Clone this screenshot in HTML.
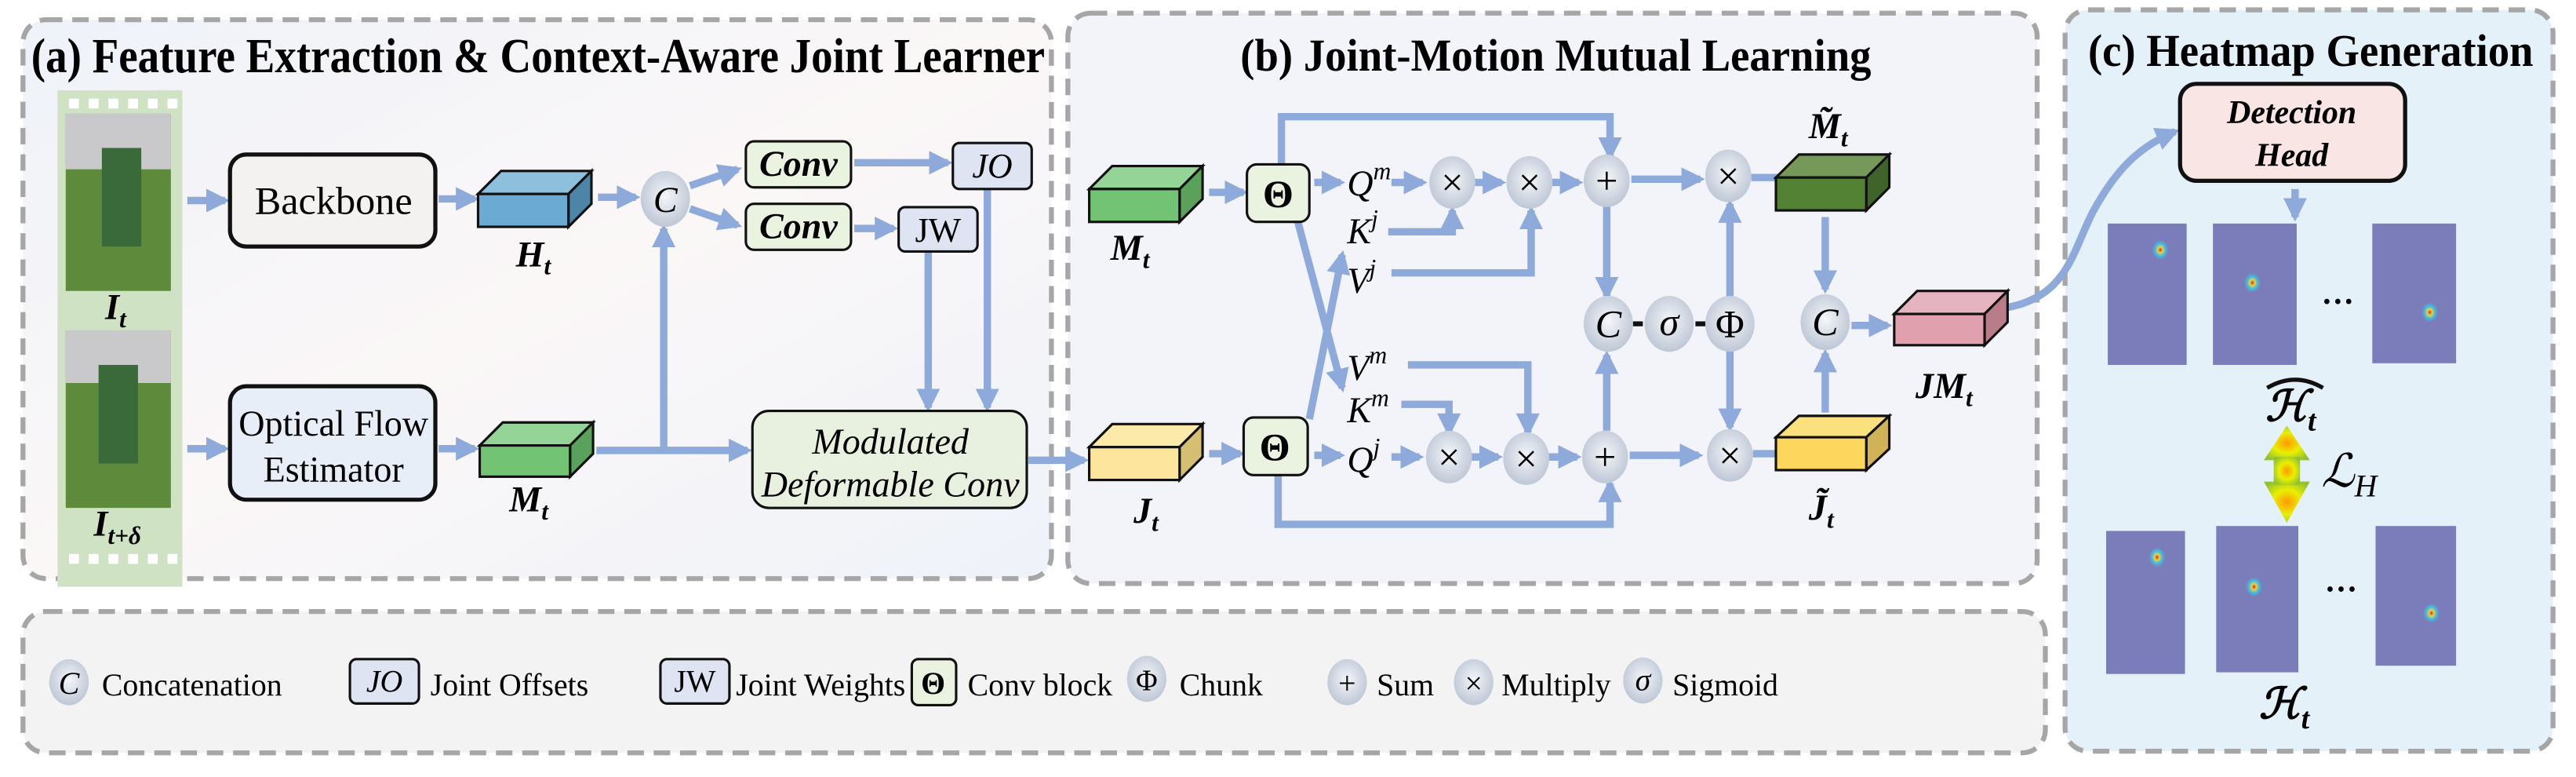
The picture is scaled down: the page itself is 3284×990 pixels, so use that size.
<!DOCTYPE html>
<html><head><meta charset="utf-8"><style>
html,body{margin:0;padding:0;background:#fff;}
svg{display:block;font-family:"Liberation Serif",serif;}
</style></head><body>
<svg width="3284" height="990" viewBox="0 0 1568 472.7" preserveAspectRatio="none" xmlns="http://www.w3.org/2000/svg" style="font-family:'Liberation Serif',serif" font-family="Liberation Serif, serif">
<defs>
<marker id="ah" viewBox="0 0 10 10" refX="8" refY="5" markerWidth="3.2" markerHeight="3.2" orient="auto"><path d="M0,0L10,5L0,10z" fill="#8eaadb"/></marker>
<radialGradient id="cg" cx="50%" cy="45%" r="60%"><stop offset="0" stop-color="#f4f6fa"/><stop offset="1" stop-color="#b9c3d2"/></radialGradient>
<radialGradient id="hm" r="50%"><stop offset="0" stop-color="#d03020"/><stop offset="0.3" stop-color="#f0d040"/><stop offset="0.6" stop-color="#40c0e0"/><stop offset="1" stop-color="#7b7dbb"/></radialGradient>
<radialGradient id="lg" r="60%"><stop offset="0" stop-color="#ff9900"/><stop offset="0.5" stop-color="#e8f000"/><stop offset="1" stop-color="#90c030"/></radialGradient>
<linearGradient id="pa" x1="0" y1="0" x2="1" y2="1"><stop offset="0" stop-color="#eef2f9"/><stop offset="0.5" stop-color="#fbf7f7"/><stop offset="1" stop-color="#eef2f9"/></linearGradient>
</defs>

<!-- Panels -->
<rect x="14" y="12" width="626" height="340" rx="14" fill="url(#pa)" stroke="#a6a6a6" stroke-width="3" stroke-dasharray="10 6"/>
<rect x="650" y="8" width="590" height="347" rx="14" fill="#f3f3fa" stroke="#a6a6a6" stroke-width="3" stroke-dasharray="10 6"/>
<rect x="1257" y="6" width="297" height="451" rx="14" fill="#e5f1f8" stroke="#a6a6a6" stroke-width="3" stroke-dasharray="10 6"/>
<rect x="14" y="372" width="1231" height="86" rx="14" fill="#f3f3f3" stroke="#a6a6a6" stroke-width="3" stroke-dasharray="10 6"/>

<text x="19" y="44" font-size="30" font-weight="bold" textLength="617" lengthAdjust="spacingAndGlyphs">(a) Feature Extraction &amp; Context-Aware Joint Learner</text>
<text x="755" y="43" font-size="28" font-weight="bold" textLength="384" lengthAdjust="spacingAndGlyphs">(b) Joint-Motion Mutual Learning</text>
<text x="1271" y="40" font-size="28" font-weight="bold" textLength="271" lengthAdjust="spacingAndGlyphs">(c) Heatmap Generation</text>

<!-- Film strip -->
<g>
<rect x="35" y="55" width="76" height="302" fill="#cfe3c4"/>
<g fill="#fff"><rect x="42" y="60" width="6" height="6"/><rect x="54" y="60" width="6" height="6"/><rect x="66" y="60" width="6" height="6"/><rect x="78" y="60" width="6" height="6"/><rect x="90" y="60" width="6" height="6"/><rect x="102" y="60" width="6" height="6"/>
<rect x="42" y="337" width="6" height="6"/><rect x="54" y="337" width="6" height="6"/><rect x="66" y="337" width="6" height="6"/><rect x="78" y="337" width="6" height="6"/><rect x="90" y="337" width="6" height="6"/><rect x="102" y="337" width="6" height="6"/></g>
<rect x="40" y="69" width="64" height="108" fill="#5e8a3c"/>
<rect x="40" y="69" width="64" height="34" fill="#c9c9cc"/>
<rect x="62" y="90" width="24" height="60" fill="#3a6a3a"/>
<rect x="40" y="201" width="64" height="108" fill="#5e8a3c"/>
<rect x="40" y="201" width="64" height="32" fill="#c9c9cc"/>
<rect x="60" y="222" width="24" height="60" fill="#3a6a3a"/>
<text x="64" y="194" font-size="22" font-style="italic" font-weight="bold">I<tspan font-size="15" dy="5">t</tspan></text>
<text x="57" y="326" font-size="22" font-style="italic" font-weight="bold">I<tspan font-size="15" dy="5">t+δ</tspan></text>
</g>

<g stroke="#8eaadb" stroke-width="4.5" fill="none">
<line x1="114" y1="122" x2="137" y2="122" marker-end="url(#ah)"/>
<line x1="114" y1="273" x2="137" y2="273" marker-end="url(#ah)"/>
<line x1="267" y1="121" x2="289" y2="121" marker-end="url(#ah)"/>
<line x1="267" y1="273" x2="289" y2="273" marker-end="url(#ah)"/>
<line x1="364" y1="120" x2="387" y2="120" marker-end="url(#ah)"/>
<line x1="420" y1="113" x2="449" y2="103" marker-end="url(#ah)"/>
<line x1="420" y1="127" x2="449" y2="137" marker-end="url(#ah)"/>
<line x1="363" y1="274" x2="455" y2="274" marker-end="url(#ah)"/>
<polyline points="404,274 404,139" marker-end="url(#ah)"/>
<line x1="520" y1="99" x2="577" y2="99" marker-end="url(#ah)"/>
<line x1="520" y1="139" x2="544" y2="139" marker-end="url(#ah)"/>
<line x1="565" y1="153" x2="565" y2="248" marker-end="url(#ah)"/>
<line x1="601" y1="115" x2="601" y2="248" marker-end="url(#ah)"/>
<line x1="626" y1="280" x2="660" y2="280" marker-end="url(#ah)"/>
</g>

<rect x="140" y="94" width="125" height="56" rx="10" fill="#f4f2f0" stroke="#111" stroke-width="2.5"/>
<text x="203" y="130" font-size="24" text-anchor="middle">Backbone</text>
<rect x="140" y="235" width="125" height="69" rx="10" fill="#e8eef8" stroke="#111" stroke-width="2.5"/>
<text x="203" y="265" font-size="22" text-anchor="middle">Optical Flow</text>
<text x="203" y="293" font-size="22" text-anchor="middle">Estimator</text>

<g stroke="#111" stroke-width="1.5">
<polygon points="291,118 305,104 360,104 346,118" fill="#8ec0de"/><polygon points="346,118 360,104 360,124 346,138" fill="#4c85a8"/><rect x="291" y="118" width="55" height="20" fill="#6aaad3"/></g>
<text x="314" y="162" font-size="22" font-style="italic" font-weight="bold">H<tspan font-size="15" dy="5">t</tspan></text>
<g stroke="#111" stroke-width="1.5">
<polygon points="292,271 306,257 361,257 347,271" fill="#95d497"/><polygon points="347,271 361,257 361,276 347,290" fill="#5aa25b"/><rect x="292" y="271" width="55" height="19" fill="#72c474"/></g>
<text x="310" y="311" font-size="22" font-style="italic" font-weight="bold">M<tspan font-size="15" dy="5">t</tspan></text>

<ellipse cx="405" cy="121" rx="15" ry="17" fill="url(#cg)"/>
<text x="405" y="129" font-size="22" font-style="italic" text-anchor="middle">C</text>

<rect x="454" y="86" width="64" height="28" rx="5" fill="#eaf3e0" stroke="#111" stroke-width="1.5"/>
<text x="486" y="107" font-size="22" font-style="italic" font-weight="bold" text-anchor="middle">Conv</text>
<rect x="454" y="124" width="64" height="28" rx="5" fill="#eaf3e0" stroke="#111" stroke-width="1.5"/>
<text x="486" y="145" font-size="22" font-style="italic" font-weight="bold" text-anchor="middle">Conv</text>
<rect x="580" y="87" width="48" height="28" rx="4" fill="#dfe4f3" stroke="#111" stroke-width="1.5"/>
<text x="604" y="108" font-size="21" font-style="italic" text-anchor="middle">JO</text>
<rect x="547" y="126" width="48" height="27" rx="4" fill="#dfe4f3" stroke="#111" stroke-width="1.5"/>
<text x="571" y="147" font-size="21" text-anchor="middle">JW</text>
<rect x="458" y="250" width="167" height="59" rx="10" fill="#e8f1df" stroke="#111" stroke-width="1.5"/>
<text x="542" y="276" font-size="22" font-style="italic" text-anchor="middle">Modulated</text>
<text x="542" y="302" font-size="22" font-style="italic" text-anchor="middle">Deformable Conv</text>

<!-- Panel b arrows -->
<g stroke="#8eaadb" stroke-width="4.5" fill="none">
<line x1="736" y1="117" x2="757" y2="117" marker-end="url(#ah)"/>
<line x1="736" y1="276" x2="755" y2="276" marker-end="url(#ah)"/>
<polyline points="780,100 780,71 980,71 980,95" marker-end="url(#ah)"/>
<polyline points="778,289 778,319 980,319 980,294" marker-end="url(#ah)"/>
<line x1="800" y1="111" x2="816" y2="111" marker-end="url(#ah)"/>
<line x1="800" y1="277" x2="816" y2="277" marker-end="url(#ah)"/>
<line x1="790" y1="135" x2="817" y2="236" marker-end="url(#ah)"/>
<line x1="797" y1="255" x2="817" y2="155" marker-end="url(#ah)"/>
<line x1="847" y1="111" x2="866" y2="111" marker-end="url(#ah)"/>
<line x1="897" y1="111" x2="914" y2="111" marker-end="url(#ah)"/>
<line x1="943" y1="111" x2="961" y2="111" marker-end="url(#ah)"/>
<line x1="993" y1="109" x2="1035" y2="109" marker-end="url(#ah)"/>
<line x1="1066" y1="108" x2="1082" y2="108"/>
<polyline points="845,141 884,141 884,128" marker-end="url(#ah)"/>
<polyline points="847,166 932,166 932,128" marker-end="url(#ah)"/>
<polyline points="857,222 930,222 930,263" marker-end="url(#ah)"/>
<polyline points="853,246 882,246 882,263" marker-end="url(#ah)"/>
<line x1="847" y1="278" x2="864" y2="278" marker-end="url(#ah)"/>
<line x1="895" y1="278" x2="912" y2="278" marker-end="url(#ah)"/>
<line x1="942" y1="278" x2="960" y2="278" marker-end="url(#ah)"/>
<line x1="992" y1="277" x2="1034" y2="277" marker-end="url(#ah)"/>
<line x1="1067" y1="276" x2="1082" y2="276"/>
<line x1="978" y1="125" x2="978" y2="180" marker-end="url(#ah)"/>
<line x1="978" y1="262" x2="978" y2="216" marker-end="url(#ah)"/>
<line x1="1053" y1="182" x2="1053" y2="124" marker-end="url(#ah)"/>
<line x1="1053" y1="213" x2="1053" y2="260" marker-end="url(#ah)"/>
<line x1="1111" y1="132" x2="1111" y2="176" marker-end="url(#ah)"/>
<line x1="1111" y1="251" x2="1111" y2="215" marker-end="url(#ah)"/>
<line x1="1127" y1="198" x2="1149" y2="198" marker-end="url(#ah)"/>
<path d="M1222,187 C1260,180 1262,150 1275,127 C1290,100 1305,88 1324,80" marker-end="url(#ah)"/>
<line x1="1397" y1="115" x2="1397" y2="132" marker-end="url(#ah)"/>
</g>
<g stroke="#111" stroke-width="3"><line x1="994" y1="197" x2="1000" y2="197"/><line x1="1032" y1="197" x2="1038" y2="197"/></g>

<g stroke="#111" stroke-width="1.5">
<polygon points="663,115 677,101 732,101 718,115" fill="#95d497"/><polygon points="718,115 732,101 732,121 718,135" fill="#5aa25b"/><rect x="663" y="115" width="55" height="20" fill="#72c474"/></g>
<text x="676" y="158" font-size="22" font-style="italic" font-weight="bold">M<tspan font-size="15" dy="5">t</tspan></text>
<g stroke="#111" stroke-width="1.5">
<polygon points="663,272 677,258 732,258 718,272" fill="#fbeaa9"/><polygon points="718,272 732,258 732,278 718,292" fill="#d4bf72"/><rect x="663" y="272" width="55" height="20" fill="#fde59d"/></g>
<text x="690" y="318" font-size="22" font-style="italic" font-weight="bold">J<tspan font-size="15" dy="5">t</tspan></text>

<rect x="759" y="100" width="38" height="35" rx="6" fill="#eaf3e0" stroke="#111" stroke-width="1.5"/>
<text x="778" y="126" font-size="24" font-weight="bold" text-anchor="middle">Θ</text>
<rect x="757" y="254" width="39" height="35" rx="6" fill="#eaf3e0" stroke="#111" stroke-width="1.5"/>
<text x="776" y="280" font-size="24" font-weight="bold" text-anchor="middle">Θ</text>

<g font-size="22" font-style="italic">
<text x="820" y="119">Q<tspan font-size="15" dy="-10">m</tspan></text>
<text x="820" y="148">K<tspan font-size="15" dy="-10">j</tspan></text>
<text x="820" y="178">V<tspan font-size="15" dy="-10">j</tspan></text>
<text x="820" y="231">V<tspan font-size="15" dy="-10">m</tspan></text>
<text x="820" y="257">K<tspan font-size="15" dy="-10">m</tspan></text>
<text x="820" y="287">Q<tspan font-size="15" dy="-10">j</tspan></text>
</g>

<g font-size="24" text-anchor="middle">
<ellipse cx="884" cy="111" rx="14" ry="16" fill="url(#cg)"/><text x="884" y="119">×</text>
<ellipse cx="931" cy="111" rx="14" ry="16" fill="url(#cg)"/><text x="931" y="119">×</text>
<ellipse cx="978" cy="110" rx="14" ry="16" fill="url(#cg)"/><text x="978" y="118">+</text>
<ellipse cx="1052" cy="107" rx="14" ry="16" fill="url(#cg)"/><text x="1052" y="115">×</text>
<ellipse cx="882" cy="278" rx="14" ry="16" fill="url(#cg)"/><text x="882" y="286">×</text>
<ellipse cx="929" cy="279" rx="14" ry="16" fill="url(#cg)"/><text x="929" y="287">×</text>
<ellipse cx="977" cy="278" rx="14" ry="16" fill="url(#cg)"/><text x="977" y="286">+</text>
<ellipse cx="1053" cy="277" rx="14" ry="16" fill="url(#cg)"/><text x="1053" y="285">×</text>
<ellipse cx="979" cy="197" rx="15" ry="17" fill="url(#cg)"/><text x="979" y="205" font-style="italic">C</text>
<ellipse cx="1016" cy="197" rx="15" ry="17" fill="url(#cg)"/><text x="1016" y="204" font-style="italic">σ</text>
<ellipse cx="1053" cy="197" rx="15" ry="17" fill="url(#cg)"/><text x="1053" y="205">Φ</text>
<ellipse cx="1111" cy="196" rx="15" ry="17" fill="url(#cg)"/><text x="1111" y="204" font-style="italic">C</text>
</g>

<g stroke="#111" stroke-width="1.5">
<polygon points="1081,108 1095,94 1150,94 1136,108" fill="#76995a"/><polygon points="1136,108 1150,94 1150,114 1136,128" fill="#3f6328"/><rect x="1081" y="108" width="55" height="20" fill="#548235"/></g>
<text x="1101" y="84" font-size="22" font-style="italic" font-weight="bold">M̃<tspan font-size="15" dy="5">t</tspan></text>
<g stroke="#111" stroke-width="1.5">
<polygon points="1081,266 1095,253 1150,253 1136,266" fill="#fbe07e"/><polygon points="1136,266 1150,253 1150,273 1136,286" fill="#cfb356"/><rect x="1081" y="266" width="55" height="20" fill="#fdd75d"/></g>
<text x="1101" y="316" font-size="22" font-style="italic" font-weight="bold">J̃<tspan font-size="15" dy="5">t</tspan></text>
<g stroke="#111" stroke-width="1.5">
<polygon points="1153,191 1167,177 1222,177 1208,191" fill="#e6b4c0"/><polygon points="1208,191 1222,177 1222,196 1208,210" fill="#b87d88"/><rect x="1153" y="191" width="55" height="19" fill="#e0a0ad"/></g>
<text x="1166" y="242" font-size="22" font-style="italic" font-weight="bold">JM<tspan font-size="15" dy="5">t</tspan></text>

<!-- Panel c -->
<rect x="1327" y="51" width="137" height="59" rx="10" fill="#fae5e5" stroke="#111" stroke-width="2.5"/>
<text x="1395" y="75" font-size="20" font-weight="bold" font-style="italic" text-anchor="middle">Detection</text>
<text x="1395" y="101" font-size="20" font-weight="bold" font-style="italic" text-anchor="middle">Head</text>
<g>
<rect x="1283" y="136" width="48" height="86" fill="#7b7dbb"/><ellipse cx="1315" cy="152" rx="5" ry="6" fill="url(#hm)"/>
<rect x="1347" y="136" width="51" height="86" fill="#7b7dbb"/><ellipse cx="1371" cy="172" rx="5" ry="6" fill="url(#hm)"/>
<text x="1413" y="190" font-size="20" font-weight="bold">···</text>
<rect x="1444" y="136" width="51" height="85" fill="#7b7dbb"/><ellipse cx="1479" cy="190" rx="5" ry="6" fill="url(#hm)"/>
</g>
<text x="1379" y="256" font-size="26" font-weight="bold" font-style="italic">ℋ<tspan font-size="18" dy="6">t</tspan></text>
<path d="M1380,236 Q1397,226 1414,236" stroke="#111" stroke-width="2.5" fill="none"/>
<polygon points="1392,259 1406,280 1378,280" fill="url(#lg)"/>
<polygon points="1392,318 1406,293 1378,293" fill="url(#lg)"/>
<rect x="1384" y="278" width="16" height="17" fill="url(#lg)"/>
<text x="1413" y="296" font-size="28" font-style="italic">ℒ<tspan font-size="19" dy="6">H</tspan></text>
<g>
<rect x="1282" y="323" width="48" height="87" fill="#7b7dbb"/><ellipse cx="1313" cy="339" rx="5" ry="6" fill="url(#hm)"/>
<rect x="1349" y="320" width="50" height="89" fill="#7b7dbb"/><ellipse cx="1372" cy="357" rx="5" ry="6" fill="url(#hm)"/>
<text x="1415" y="365" font-size="20" font-weight="bold">···</text>
<rect x="1446" y="320" width="49" height="85" fill="#7b7dbb"/><ellipse cx="1480" cy="373" rx="5" ry="6" fill="url(#hm)"/>
</g>
<text x="1375" y="437" font-size="26" font-weight="bold" font-style="italic">ℋ<tspan font-size="18" dy="6">t</tspan></text>

<!-- Legend -->
<g font-size="19">
<ellipse cx="42" cy="415" rx="12" ry="14" fill="url(#cg)"/><text x="42" y="422" text-anchor="middle" font-style="italic" font-size="19">C</text>
<text x="62" y="423">Concatenation</text>
<rect x="213" y="401" width="42" height="27" rx="4" fill="#dfe4f3" stroke="#111" stroke-width="1.5"/><text x="234" y="421" text-anchor="middle" font-style="italic">JO</text>
<text x="262" y="423">Joint Offsets</text>
<rect x="402" y="401" width="42" height="27" rx="4" fill="#dfe4f3" stroke="#111" stroke-width="1.5"/><text x="423" y="421" text-anchor="middle">JW</text>
<text x="448" y="423">Joint Weights</text>
<rect x="555" y="401" width="27" height="28" rx="4" fill="#eaf3e0" stroke="#111" stroke-width="1.5"/><text x="568" y="422" text-anchor="middle" font-weight="bold">Θ</text>
<text x="589" y="423">Conv block</text>
<ellipse cx="698" cy="413" rx="12" ry="14" fill="url(#cg)"/><text x="698" y="420" text-anchor="middle" font-size="18">Φ</text>
<text x="718" y="423">Chunk</text>
<ellipse cx="820" cy="415" rx="12" ry="14" fill="url(#cg)"/><text x="820" y="422" text-anchor="middle">+</text>
<text x="838" y="423">Sum</text>
<ellipse cx="897" cy="415" rx="12" ry="14" fill="url(#cg)"/><text x="897" y="422" text-anchor="middle">×</text>
<text x="914" y="423">Multiply</text>
<ellipse cx="1000" cy="414" rx="12" ry="14" fill="url(#cg)"/><text x="1000" y="420" text-anchor="middle" font-style="italic">σ</text>
<text x="1018" y="423">Sigmoid</text>
</g>
</svg>
</body></html>
